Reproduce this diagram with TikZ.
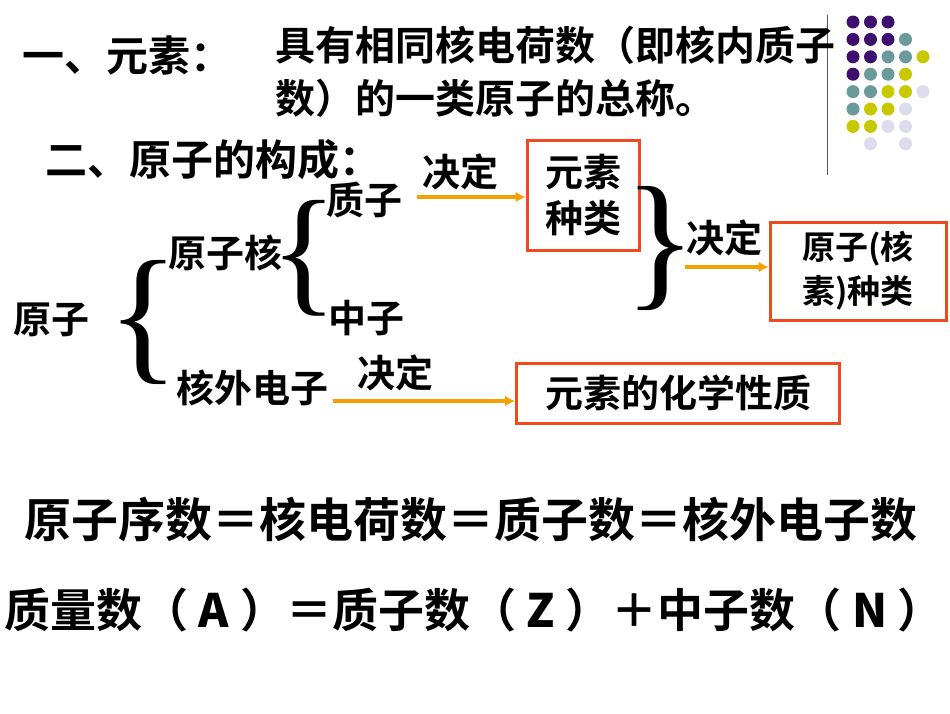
\documentclass[tikz,border=0pt]{standalone}
\usepackage{fontspec}
\usetikzlibrary{arrows.meta}
\setmainfont{Liberation Serif}
\newfontfamily\cjk{Noto Sans CJK SC Bold}
\definecolor{pp}{HTML}{3F0F6E}
\definecolor{tl}{HTML}{6A9A9A}
\definecolor{yl}{HTML}{C8C800}
\definecolor{lv}{HTML}{DCDCEC}
\definecolor{bx}{HTML}{F04A1E}
\definecolor{ar}{HTML}{F5A000}
\begin{document}
\begin{tikzpicture}[x=1pt,y=-1pt,
  t/.style={inner sep=0pt,font=\cjk\fontsize{#1}{#1}\selectfont},
  t/.default=38,
  rbox/.style={draw=bx,line width=3pt,inner sep=0pt,align=center},
  arr/.style={draw=ar,line width=3.5pt,-{Latex[length=10pt,width=11pt]}},
  dot/.style={circle,inner sep=0pt,minimum size=13pt}]
\useasboundingbox[fill=white] (0,0) rectangle (950,713);
\draw[line width=0.8pt,gray!70!black] (827,15) coordinate (la) -- (827,175) coordinate (lb);
\foreach \row/\cols in {0/{pp,pp,pp},1/{pp,pp,pp,tl},2/{pp,pp,tl,tl,yl},3/{pp,tl,tl,yl},4/{tl,tl,yl,yl,lv},5/{tl,yl,yl,lv},6/{yl,yl,lv,lv}}{
  \foreach \c [count=\i from 0] in \cols {
    \node[dot,fill=\c] (d\row\i) at (853+17.5*\i,22+17.4*\row) {};}}
\node[dot,fill=lv] (d71) at (870.5,143.8) {};
\node[dot,fill=lv] (d73) at (905.5,143.8) {};
\node[t=42,anchor=west] (h1) at (22,55) {一、元素：};
\node[t=40,anchor=west] (d1) at (275,45) {具有相同核电荷数（即核内质子};
\node[t=40,anchor=west] (d2) at (275,98) {数）的一类原子的总称。};
\node[t=42,anchor=west] (h2) at (45,160) {二、原子的构成：};
\node[t] (jd1) at (460,172) {决定};
\node[t] (zz) at (364,200) {质子};
\node[rbox,minimum width=112pt,minimum height=110pt,font=\cjk\fontsize{38}{46}\selectfont] (b1) at (583,195) {元素\\种类};
\draw[arr] (417,197) coordinate (a1) -- (a1 -| b1.west);
\node[inner sep=0pt,font=\fontsize{150}{150}\selectfont] (rb) at (660,248) {\}};
\node[t] (jd2) at (724,238) {决定};
\node[rbox,minimum width=176pt,minimum height=98pt,font=\cjk\fontsize{33}{44}\selectfont] (b2) at (858,271) {原子(核\\素)种类};
\draw[arr] (685,267) coordinate (a2) -- (a2 -| b2.west);
\node[t] (yzh) at (225,253) {原子核};
\node[inner sep=0pt,font=\fontsize{140}{140}\selectfont] (lb1) at (304,258) {\{};
\node[t] (zhz) at (366,318) {中子};
\node[t] (yz) at (51,320) {原子};
\node[inner sep=0pt,font=\fontsize{150}{150}\selectfont] (lb2) at (143,322) {\{};
\node[t] (hw) at (252,388) {核外电子};
\node[t] (jd3) at (395,373) {决定};
\node[rbox,minimum width=323pt,minimum height=60pt,font=\cjk\fontsize{38}{38}\selectfont] (b3) at (678,393) {元素的化学性质};
\draw[arr] (333,401) coordinate (a3) -- (a3 -| b3.west);
\node[t=47] (eq1) at (471,520) {原子序数＝核电荷数＝质子数＝核外电子数};
\node[t=46] (eq2) at (474,610) {质量数（\textbf{ A }）＝质子数（\textbf{ Z }）＋中子数（\textbf{ N }）};
\end{tikzpicture}
\end{document}
